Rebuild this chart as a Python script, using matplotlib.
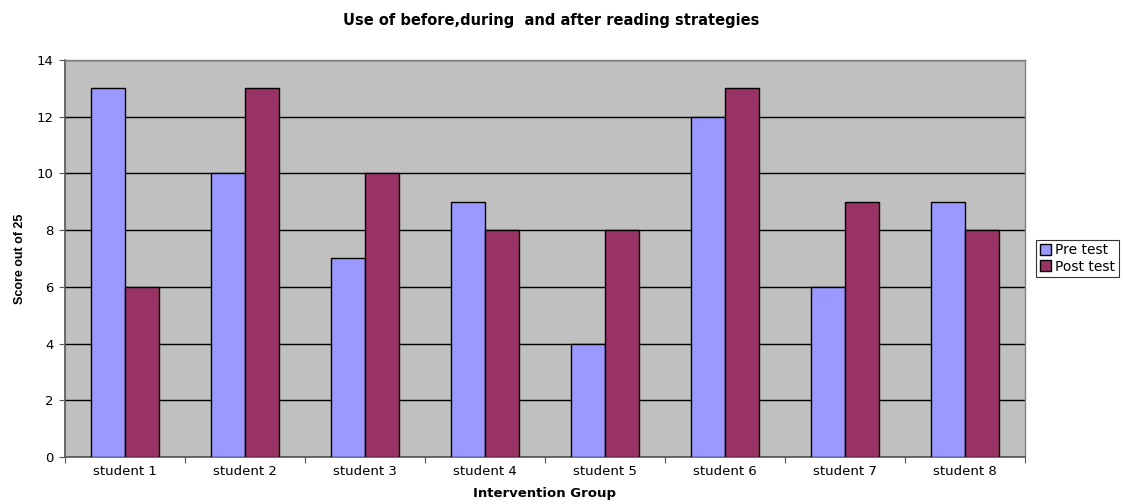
import numpy as np
import matplotlib
matplotlib.use('Agg')
import matplotlib.pyplot as plt

plt.rcParams['font.family'] = ['DejaVu Sans']

students = ['student 1', 'student 2', 'student 3', 'student 4',
            'student 5', 'student 6', 'student 7', 'student 8']
pre_test = [13, 10, 7, 9, 4, 12, 6, 9]
post_test = [6, 13, 10, 8, 8, 13, 9, 8]

pre_color = '#9999ff'
post_color = '#993366'

fig = plt.figure(figsize=(11.23, 5.04), dpi=100)
ax = fig.add_axes([0.0579, 0.0933, 0.8548, 0.7877])
ax.set_facecolor('#c0c0c0')

x = np.arange(len(students))
w = 0.283
ax.bar(x - w / 2, pre_test, w, color=pre_color, edgecolor='black',
       linewidth=1, label='Pre test', zorder=3)
ax.bar(x + w / 2, post_test, w, color=post_color, edgecolor='black',
       linewidth=1, label='Post test', zorder=3)

ax.set_xlim(-0.5, len(students) - 0.5)
ax.set_ylim(0, 14)
ax.set_yticks(range(0, 15, 2))
ax.yaxis.grid(True, color='black', linewidth=1, zorder=1)
ax.set_axisbelow(True)

# category labels sit between boundary ticks
ax.set_xticks(np.arange(len(students) + 1) - 0.5)
ax.set_xticklabels([])
ax.set_xticks(x, minor=True)
ax.set_xticklabels(students, minor=True, fontsize=9.5)
ax.tick_params(axis='x', which='minor', length=0, pad=6)
ax.tick_params(axis='x', which='major', length=4, color='#555555', direction='out')
ax.tick_params(axis='y', length=4, color='#555555', labelsize=9.5, pad=4)

for side in ['top', 'right']:
    ax.spines[side].set_color('#808080')
    ax.spines[side].set_linewidth(1)
for side in ['left', 'bottom']:
    ax.spines[side].set_color('#555555')
    ax.spines[side].set_linewidth(1.2)

ax.set_xlabel('Intervention Group', fontsize=9.5, fontweight='bold', labelpad=6)
ax.set_ylabel('Score out of 25', fontsize=9, fontweight='bold',
              family='Liberation Sans', labelpad=8)
fig.suptitle('Use of before,during  and after reading strategies',
             fontsize=10.5, fontweight='bold', x=0.491, y=0.975)

leg = ax.legend(loc='center left', bbox_to_anchor=(1.012, 0.5), fontsize=10,
                frameon=True, fancybox=False, handlelength=0.8,
                handleheight=0.8, handletextpad=0.3, borderpad=0.25,
                labelspacing=0.15, borderaxespad=0)
leg.get_frame().set_edgecolor('black')
leg.get_frame().set_linewidth(0.8)

fig.savefig('out.png', dpi=100)
